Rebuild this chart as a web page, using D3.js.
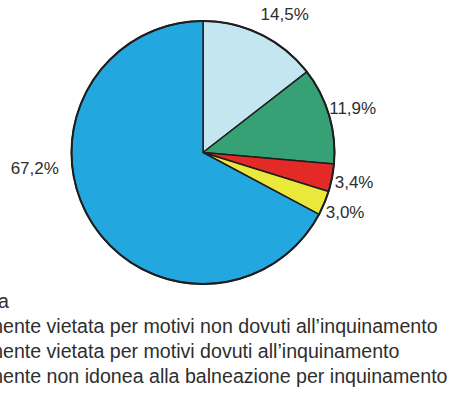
<!DOCTYPE html>
<html>
<head>
<meta charset="utf-8">
<script src="https://cdn.jsdelivr.net/npm/d3@7"></script>
<style>
  html, body { margin: 0; padding: 0; background: #fff; overflow: hidden; }
  svg { display: block; }
  text { font-family: "Liberation Sans", Arial, Helvetica, sans-serif; fill: #2e2e2e; }
</style>
</head>
<body>
<svg id="chart" width="453" height="415"></svg>
<script>
// ---- data ----
const categories = [
  "Costa permanentemente vietata per motivi non dovuti all’inquinamento",
  "Costa non controllata",
  "Costa permanentemente vietata per motivi dovuti all’inquinamento",
  "Costa temporaneamente non idonea alla balneazione per inquinamento",
  "Costa idonea"
];
const values = [14.5, 11.9, 3.4, 3.0, 67.2];
const valueLabels = ["14,5%", "11,9%", "3,4%", "3,0%", "67,2%"];
const colors = ["#c4e6f0", "#35a175", "#e42a27", "#ebe83c", "#23a7df"];
const legendOrder = [4, 0, 2, 3];
const legendLabels = [
  "Costa idonea",
  "Permanentemente vietata per motivi non dovuti all’inquinamento",
  "Permanentemente vietata per motivi dovuti all’inquinamento",
  "Temporaneamente non idonea alla balneazione per inquinamento"
];

// ---- layout ----
const cx = 203, cy = 152.5, R = 131.5;
const labelAngleDeg = [30.5, null, null, null, 264.6];
const labelRadius = [161, 156, 154, 154, 169];

const svg = d3.select("#chart");
const g = svg.append("g").attr("transform", `translate(${cx},${cy})`);

const pie = d3.pie().sort(null).value(d => d)(values);
const arc = d3.arc().innerRadius(0).outerRadius(R);

g.selectAll("path.slice")
  .data(pie)
  .join("path")
  .attr("class", "slice")
  .attr("d", arc)
  .attr("fill", (d, i) => colors[i])
  .attr("stroke", "#1e1e1e")
  .attr("stroke-width", 1.5)
  .attr("stroke-linejoin", "round");

g.append("circle")
  .attr("r", R)
  .attr("fill", "none")
  .attr("stroke", "#1e1e1e")
  .attr("stroke-width", 2);

function labelAngle(d, i) {
  return labelAngleDeg[i] != null ? labelAngleDeg[i] * Math.PI / 180 : (d.startAngle + d.endAngle) / 2;
}
g.selectAll("text.val")
  .data(pie)
  .join("text")
  .attr("class", "val")
  .attr("font-size", 17)
  .attr("text-anchor", "middle")
  .attr("dy", "0.35em")
  .attr("x", (d, i) => Math.sin(labelAngle(d, i)) * labelRadius[i])
  .attr("y", (d, i) => -Math.cos(labelAngle(d, i)) * labelRadius[i])
  .text((d, i) => valueLabels[i]);

// ---- legend ----
const legend = svg.append("g");
const rowY = d3.scaleBand().domain(d3.range(legendOrder.length)).range([288.5, 388.5]);
const fs = 19.6;
const rows = legend.selectAll("g.row")
  .data(legendOrder)
  .join("g")
  .attr("class", "row")
  .attr("transform", (d, i) => `translate(0,${rowY(i) + rowY.bandwidth() / 2})`);

const texts = rows.append("text")
  .attr("font-size", fs)
  .attr("dy", "0.35em")
  .text((d, i) => legendLabels[i]);

// legend text partly runs past the left edge of the picture, as in the reference
texts.each(function (d, i) {
  const t = legendLabels[i];
  const k = t.indexOf("mente ");
  let x;
  if (k >= 0) {
    x = 3 - this.getSubStringLength(0, k + 1);
  } else {
    x = 9 - this.getComputedTextLength();
  }
  d3.select(this).attr("x", x);
  d3.select(this.parentNode).append("rect")
    .attr("x", x - 24).attr("y", -7).attr("width", 14).attr("height", 14)
    .attr("fill", colors[d]).attr("stroke", "#1e1e1e");
});
</script>
</body>
</html>
